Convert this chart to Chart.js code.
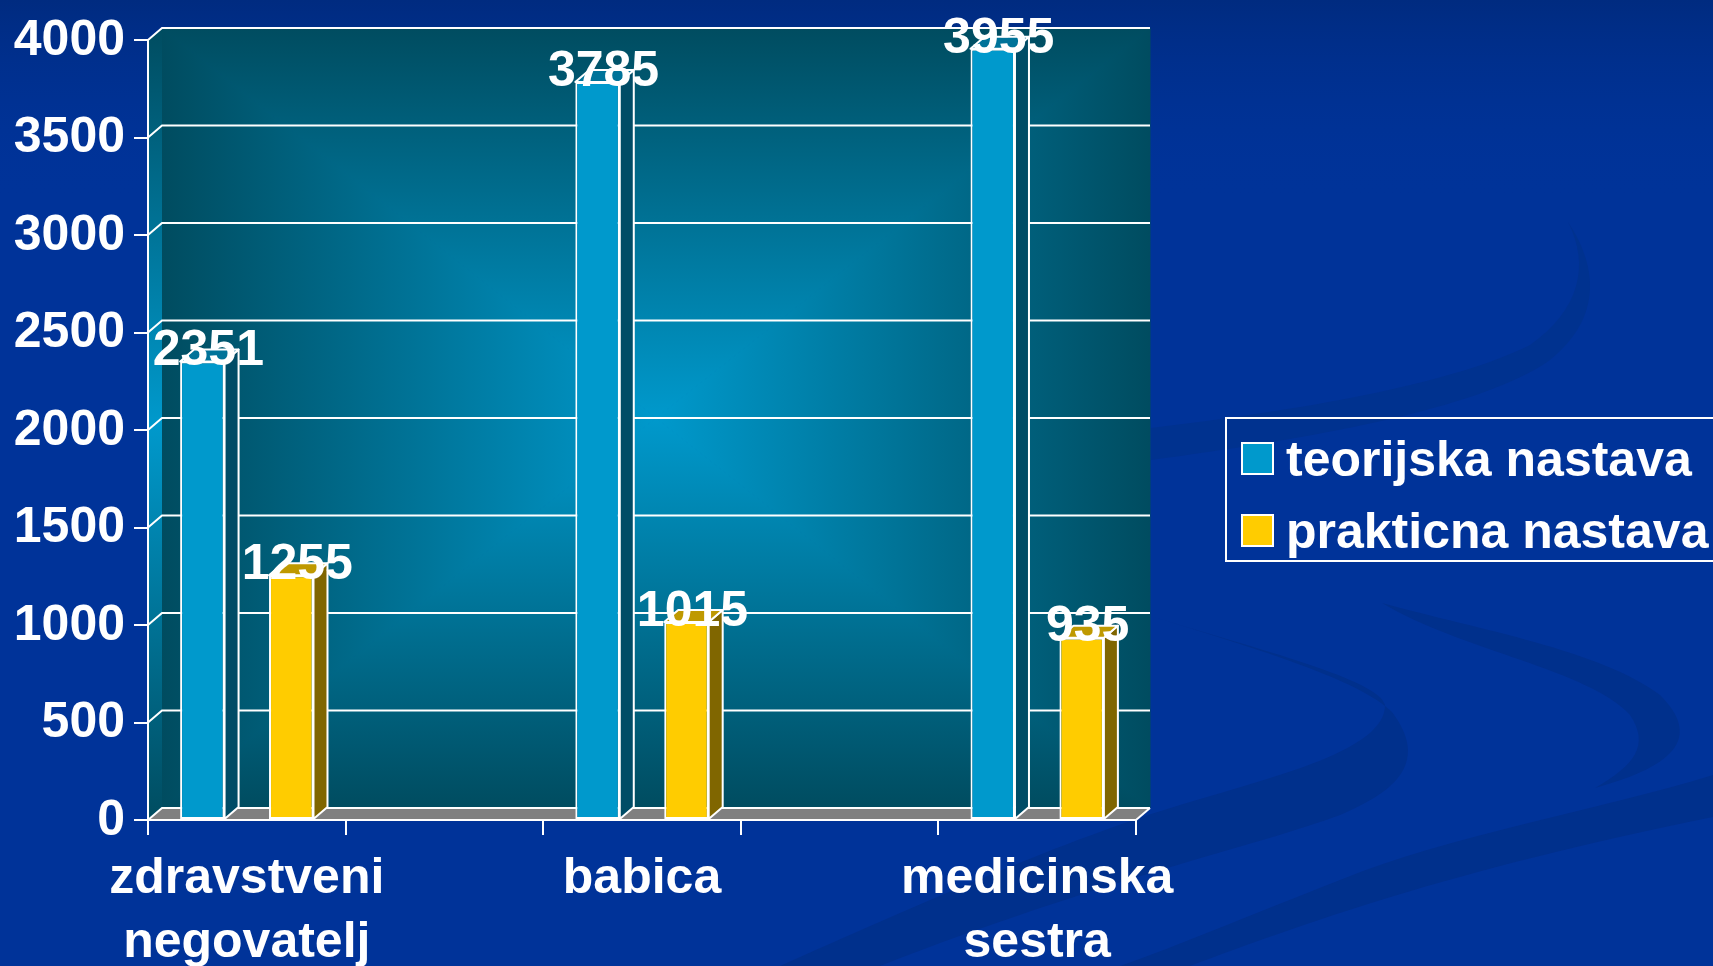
<!DOCTYPE html>
<html>
<head>
<meta charset="utf-8">
<title>teorijska i prakticna nastava</title>
<script src="https://cdn.jsdelivr.net/npm/chart.js@4"></script>
<style>
  html, body { margin: 0; padding: 0; background: #003399; overflow: hidden; }
  canvas { display: block; }
</style>
</head>
<body>
<canvas id="barChart" width="1713" height="966"></canvas>
<script>
var categories = [['zdravstveni', 'negovatelj'], '', 'babica', '', ['medicinska', 'sestra']];
var teorijska = [2351, null, 3785, null, 3955];
var prakticna = [1255, null, 1015, null, 935];
var seriesNames = ['teorijska nastava', 'prakticna nastava'];
var yTickStep = 500;
var yMax = 4000;

var colors = ['#0099CC', '#FFCC00'];
var sideColors = ['#004C66', '#806600'];
var topColors = ['#007399', '#BF9900'];
var depthX = 14;
var depthY = 12;
var font = 'bold 50px "Liberation Sans"';

function path(ctx, points) {
  ctx.beginPath();
  points.forEach((p, i) => { if (i == 0) ctx.moveTo(p[0], p[1]); else ctx.lineTo(p[0], p[1]); });
  ctx.closePath();
}

// dark swooshes of the slide background
function drawSlide(ctx, w, h) {
  ctx.fillStyle = '#003399';
  ctx.fillRect(0, 0, w, h);
  var top = ctx.createLinearGradient(0, 0, 0, 200);
  top.addColorStop(0, '#002B80');
  top.addColorStop(1, 'rgba(0,51,153,0)');
  ctx.fillStyle = top;
  ctx.fillRect(0, 0, w, 200);

  ctx.fillStyle = '#00308C';
  // long band bottom right
  ctx.beginPath();
  ctx.moveTo(1713, 775);
  ctx.bezierCurveTo(1600, 810, 1450, 835, 1340, 880);
  ctx.bezierCurveTo(1250, 915, 1180, 945, 1120, 966);
  ctx.lineTo(1190, 966);
  ctx.bezierCurveTo(1300, 925, 1450, 870, 1713, 817);
  ctx.closePath();
  ctx.fill();
  // middle crescent
  ctx.beginPath();
  ctx.moveTo(1154, 617);
  ctx.bezierCurveTo(1260, 650, 1360, 680, 1392, 712);
  ctx.bezierCurveTo(1428, 760, 1400, 790, 1340, 815);
  ctx.bezierCurveTo(1260, 845, 1100, 880, 880, 966);
  ctx.lineTo(780, 966);
  ctx.bezierCurveTo(950, 890, 1080, 835, 1180, 805);
  ctx.bezierCurveTo(1280, 775, 1385, 750, 1385, 705);
  ctx.bezierCurveTo(1380, 680, 1260, 650, 1154, 617);
  ctx.closePath();
  ctx.fill();
  // right crescent
  ctx.beginPath();
  ctx.moveTo(1382, 603);
  ctx.bezierCurveTo(1480, 630, 1600, 650, 1660, 695);
  ctx.bezierCurveTo(1700, 735, 1680, 765, 1595, 788);
  ctx.bezierCurveTo(1635, 765, 1650, 745, 1630, 715);
  ctx.bezierCurveTo(1590, 670, 1460, 650, 1382, 603);
  ctx.closePath();
  ctx.fill();
  // faint crescent behind the legend
  ctx.fillStyle = '#00328F';
  ctx.beginPath();
  ctx.moveTo(1151, 428);
  ctx.bezierCurveTo(1300, 410, 1450, 385, 1530, 345);
  ctx.bezierCurveTo(1580, 310, 1590, 265, 1568, 222);
  ctx.bezierCurveTo(1600, 270, 1600, 320, 1550, 360);
  ctx.bezierCurveTo(1480, 410, 1300, 440, 1151, 460);
  ctx.closePath();
  ctx.fill();
}

// plot walls, floor and the back gridlines, all behind the library's axes
function drawBox(ctx, area, yScale) {
  var l = area.left + depthX, r = area.right + depthX, t = area.top - depthY, b = area.bottom - depthY;
  var cx = (l + r) / 2, cy = (t + b) / 2;
  var edge = '#004C60', mid = '#0099CC';
  var parts = [
    [[l, t], [r, t], [cx, cy], cx, t, cx, cy],
    [[r, t], [r, b], [cx, cy], r, cy, cx, cy],
    [[r, b], [l, b], [cx, cy], cx, b, cx, cy],
    [[l, b], [l, t], [cx, cy], l, cy, cx, cy]
  ];
  parts.forEach(p => {
    var g = ctx.createLinearGradient(p[3], p[4], p[5], p[6]);
    g.addColorStop(0, edge);
    g.addColorStop(1, mid);
    ctx.fillStyle = g;
    path(ctx, [p[0], p[1], p[2]]);
    ctx.fill();
    ctx.strokeStyle = g;
    ctx.lineWidth = 1;
    ctx.stroke();
  });

  // left wall
  var wall = ctx.createLinearGradient(0, t, 0, area.bottom);
  wall.addColorStop(0, edge);
  wall.addColorStop(0.5, mid);
  wall.addColorStop(1, edge);
  ctx.fillStyle = wall;
  path(ctx, [[area.left, area.top], [l, t], [l, b], [area.left, area.bottom]]);
  ctx.fill();

  // floor
  ctx.fillStyle = '#808080';
  path(ctx, [[area.left, area.bottom], [l, b], [r, b], [area.right, area.bottom]]);
  ctx.fill();

  ctx.strokeStyle = '#FFFFFF';
  ctx.lineWidth = 2;
  yScale.ticks.forEach(tick => {
    var y = yScale.getPixelForValue(tick.value);
    ctx.beginPath();
    ctx.moveTo(area.left, y);
    ctx.lineTo(l, y - depthY);
    ctx.lineTo(r, y - depthY);
    ctx.stroke();
  });
  ctx.beginPath();
  ctx.moveTo(area.right, area.bottom);
  ctx.lineTo(r, b);
  ctx.stroke();
}

var scenePlugin = {
  id: 'scene',
  beforeDraw(chart) {
    var ctx = chart.ctx;
    ctx.save();
    drawSlide(ctx, chart.width, chart.height);
    drawBox(ctx, chart.chartArea, chart.scales.y);
    ctx.restore();
  },
  // side and top of each bar, the front comes from the library
  beforeDatasetDraw(chart, args) {
    var ctx = chart.ctx;
    var i = args.index;
    var values = chart.data.datasets[i].data;
    ctx.save();
    ctx.strokeStyle = '#FFFFFF';
    ctx.lineWidth = 2;
    ctx.lineJoin = 'round';
    args.meta.data.forEach((bar, n) => {
      if (values[n] == null) return;
      var half = bar.width / 2;
      var x0 = bar.x - half, x1 = bar.x + half;
      ctx.fillStyle = sideColors[i];
      path(ctx, [[x1, bar.y], [x1 + depthX, bar.y - depthY], [x1 + depthX, bar.base - depthY], [x1, bar.base]]);
      ctx.fill();
      ctx.stroke();
      ctx.fillStyle = topColors[i];
      path(ctx, [[x0, bar.y], [x0 + depthX, bar.y - depthY], [x1 + depthX, bar.y - depthY], [x1, bar.y]]);
      ctx.fill();
      ctx.stroke();
    });
    ctx.restore();
  },
  afterDatasetsDraw(chart) {
    var ctx = chart.ctx;
    ctx.save();
    ctx.font = font;
    ctx.fillStyle = '#FFFFFF';
    ctx.textAlign = 'center';
    ctx.textBaseline = 'middle';
    chart.data.datasets.forEach((ds, i) => {
      chart.getDatasetMeta(i).data.forEach((bar, n) => {
        if (ds.data[n] == null) return;
        ctx.fillText(String(ds.data[n]), bar.x + 6, bar.y - depthY + 2);
      });
    });
    // legend
    ctx.strokeStyle = '#FFFFFF';
    ctx.lineWidth = 2;
    ctx.strokeRect(1226, 418, 520, 143);
    ctx.textAlign = 'left';
    chart.data.datasets.forEach((ds, i) => {
      var y = 443 + i * 72;
      ctx.fillStyle = colors[i];
      ctx.fillRect(1242, y, 31, 31);
      ctx.strokeRect(1242, y, 31, 31);
      ctx.fillStyle = '#FFFFFF';
      ctx.fillText(ds.label, 1286, y + 19);
    });
    ctx.restore();
  }
};

function createBarChart() {
  var ctx = document.getElementById('barChart').getContext('2d');
  return new Chart(ctx, {
    type: 'bar',
    data: {
      labels: categories,
      datasets: [
        { label: seriesNames[0], data: teorijska, backgroundColor: colors[0] },
        { label: seriesNames[1], data: prakticna, backgroundColor: colors[1] }
      ]
    },
    options: {
      responsive: false,
      animation: false,
      layout: { padding: { top: 40, right: 577, bottom: 0, left: 0 } },
      datasets: {
        bar: {
          categoryPercentage: 0.9,
          barPercentage: 0.5,
          borderColor: '#FFFFFF',
          borderWidth: 2,
          borderSkipped: false
        }
      },
      plugins: { legend: { display: false }, tooltip: { enabled: false } },
      scales: {
        x: {
          afterFit(scale) { scale.height = 146; },
          border: { display: true, color: '#FFFFFF', width: 2 },
          grid: { color: '#FFFFFF', lineWidth: 2, drawOnChartArea: false, tickLength: 15 },
          ticks: {
            color: '#FFFFFF',
            autoSkip: false,
            maxRotation: 0,
            padding: 12,
            font: { family: 'Liberation Sans', size: 50, weight: 'bold', lineHeight: 1.28 }
          }
        },
        y: {
          min: 0,
          max: yMax,
          afterFit(scale) { scale.width = 148; },
          border: { display: true, color: '#FFFFFF', width: 2 },
          grid: { color: '#FFFFFF', lineWidth: 2, drawOnChartArea: false, tickLength: 14 },
          ticks: {
            color: '#FFFFFF',
            stepSize: yTickStep,
            padding: 9,
            labelOffset: 1,
            callback: value => String(value),
            font: { family: 'Liberation Sans', size: 50, weight: 'bold' }
          }
        }
      }
    },
    plugins: [scenePlugin]
  });
}

var myChart = createBarChart();
</script>
</body>
</html>
